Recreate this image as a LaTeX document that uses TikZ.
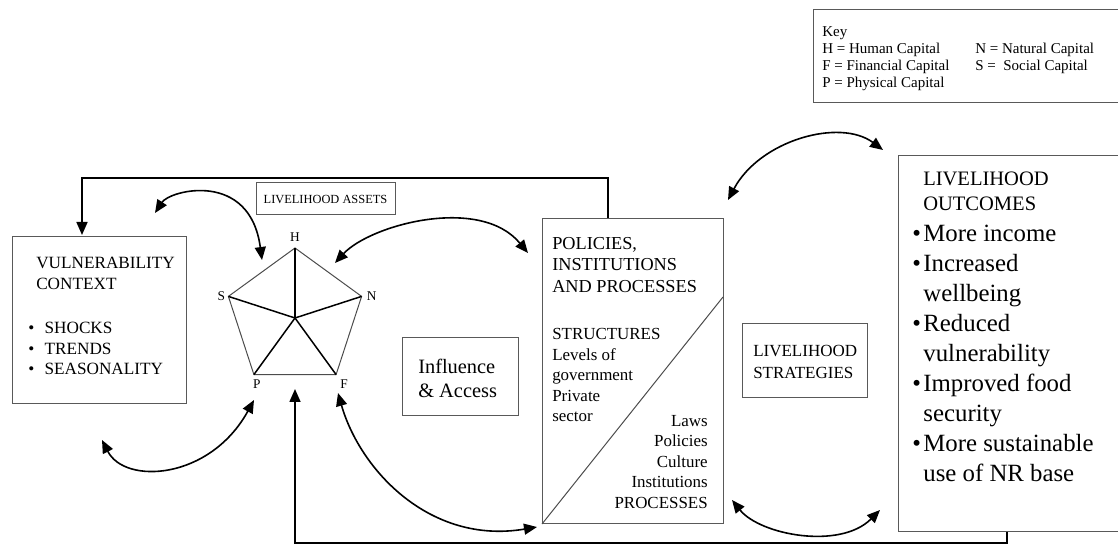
\documentclass[tikz,border=0pt]{standalone}
\usepackage{fontspec}
\setmainfont{Liberation Serif}
\usetikzlibrary{arrows.meta,positioning}

\newlength\pix
\setlength\pix{0.75pt}

\newcommand\keyfont{\fontsize{11.25}{12.75}\selectfont}
\newcommand\assetfont{\fontsize{9.3}{11}\selectfont}
\newcommand\vulfont{\fontsize{12.9}{15.4}\selectfont}
\newcommand\pentfont{\fontsize{10}{12}\selectfont}
\newcommand\piphead{\fontsize{13.7}{16.1}\selectfont}
\newcommand\pipbody{\fontsize{12.7}{15.4}\selectfont}
\newcommand\stratfont{\fontsize{12.75}{16.5}\selectfont}
\newcommand\inflfont{\fontsize{15.3}{17.6}\selectfont}
\newcommand\outhead{\fontsize{15.4}{18.75}\selectfont}
\newcommand\outbody{\fontsize{18.6}{22.5}\selectfont}
\newcommand\bul{\textbullet\hspace{0.6em}}
\newcommand\obul{\textbullet\hspace{0.1em}}

\tikzset{
  box/.style={draw=black!65, line width=1\pix, inner sep=0pt, anchor=north west},
  txt/.style={inner sep=0pt, anchor=north west, align=left},
  conn/.style={line width=1.6\pix, black},
  tip/.style={-{Triangle[length=9.75pt,width=8.25pt]}},
  dbl/.style={{Triangle[length=9.75pt,width=8.25pt]}-{Triangle[length=9.75pt,width=8.25pt]}},
  rim/.style={draw=black!70, line width=1\pix},
  spoke/.style={line width=1.5\pix, black},
  lbl/.style={inner sep=0pt, font=\pentfont},
}

\begin{document}
\begin{tikzpicture}[x=0.75pt, y=-0.75pt]
\useasboundingbox (0,0) rectangle (1118,545);

% key
\node[box, minimum width=312\pix, minimum height=93\pix] (key) at (813,9) {};
\node[txt, font=\keyfont] (keyleft) at (822,26) {Key\\H = Human Capital\\F = Financial Capital\\P = Physical Capital};
\node[txt, font=\keyfont] (keyright) at (975,43) {N = Natural Capital\\S = \ Social Capital};

% vulnerability context
\node[box, minimum width=174\pix, minimum height=167\pix] (vul) at (12,236) {};
\node[txt, font=\vulfont] (vulhead) at (36,257) {VULNERABILITY\\CONTEXT};
\node[txt, font=\vulfont] (vullist) at (28,322) {\bul SHOCKS\\\bul TRENDS\\\bul SEASONALITY};

% livelihood assets
\node[box, anchor=center, minimum width=139\pix, minimum height=32\pix, font=\assetfont] (assets) at (325.5,199) {LIVELIHOOD ASSETS};

% asset pentagon
\coordinate (O) at (295,318);
\coordinate (H) at (295,248);
\coordinate (N) at (361.6,296.4);
\coordinate (F) at (336.1,374.6);
\coordinate (P) at (253.9,374.6);
\coordinate (S) at (228.4,296.4);
\draw[rim] (H) -- (N) -- (F) -- (P) -- (S) -- cycle;
\draw[spoke, line width=2.4\pix] (O) -- (H);
\foreach \v in {N,F,P,S} \draw[spoke] (O) -- (\v);
\node[lbl, above=6\pix of H] (labH) {H};
\node[lbl, left=3\pix of S] (labS) {S};
\node[lbl, right=5\pix of N] (labN) {N};
\node[lbl, below=5\pix of P, xshift=3\pix] (labP) {P};
\node[lbl, below=5\pix of F, xshift=8\pix] (labF) {F};

% influence and access
\node[box, minimum width=116\pix, minimum height=78\pix] (infl) at (402,337) {};
\node[txt, font=\inflfont] (infltext) at (418,359) {Influence\\\& Access};

% policies, institutions and processes
\node[box, minimum width=181\pix, minimum height=305\pix] (pip) at (542,218) {};
\coordinate (pipcut) at (723,297);
\draw[rim] (pip.south west) -- (pipcut);
\node[txt, font=\piphead] (piptitle) at (552,237) {POLICIES,\\INSTITUTIONS\\AND PROCESSES};
\node[txt, font=\pipbody] (pipstruct) at (552,328) {STRUCTURES\\Levels of\\government\\Private\\sector};
\node[txt, font=\pipbody, anchor=north east, align=right] (pipproc) at (708,415) {Laws\\Policies\\Culture\\Institutions\\PROCESSES};

% livelihood strategies
\node[box, minimum width=125\pix, minimum height=74\pix] (strat) at (742,323) {};
\node[txt, font=\stratfont] (strattext) at (753,345) {LIVELIHOOD\\STRATEGIES};

% livelihood outcomes
\node[box, minimum width=230\pix, minimum height=376\pix] (outc) at (898,155) {};
\node[txt, font=\outhead] (outtitle) at (923,172) {LIVELIHOOD\\OUTCOMES};
\node[txt, font=\outbody] (outlist) at (912,225) {\obul More income\\\obul Increased\\\hphantom{\obul}wellbeing\\\obul Reduced\\\hphantom{\obul}vulnerability\\\obul Improved food\\\hphantom{\obul}security\\\obul More sustainable\\\hphantom{\obul}use of NR base};

% feedback lines
\coordinate (topturn) at (608,178);
\coordinate (vulin) at (82,235);
\draw[conn, tip] (pip.north -| topturn) -- (topturn) -| (vulin);
\coordinate (botturn) at (1007,543);
\coordinate (pentin) at (295,389);
\draw[conn, tip] (outc.south -| botturn) -- (botturn) -| (pentin);

% two way arrows
\coordinate (a1s) at (155,213);
\coordinate (a1e) at (262,260);
\draw[conn, dbl] (a1s) .. controls (170,190) and (250,170) .. (a1e);
\coordinate (a2s) at (335,263);
\coordinate (a2e) at (528,253);
\draw[conn, dbl] (a2s) .. controls (370,225) and (480,195) .. (a2e);
\coordinate (a3s) at (102,440);
\coordinate (a3e) at (254,400);
\draw[conn, dbl] (a3s) .. controls (125,485) and (210,480) .. (a3e);
\coordinate (a4s) at (338,393);
\coordinate (a4e) at (537,527);
\draw[conn, dbl] (a4s) .. controls (360,470) and (430,545) .. (a4e);
\coordinate (a5s) at (732,500);
\coordinate (a5e) at (880,510);
\draw[conn, dbl] (a5s) .. controls (760,535) and (840,550) .. (a5e);
\coordinate (a6s) at (728,200);
\coordinate (a6e) at (883,150);
\draw[conn, dbl] (a6s) .. controls (760,140) and (840,118) .. (a6e);
\end{tikzpicture}
\end{document}
